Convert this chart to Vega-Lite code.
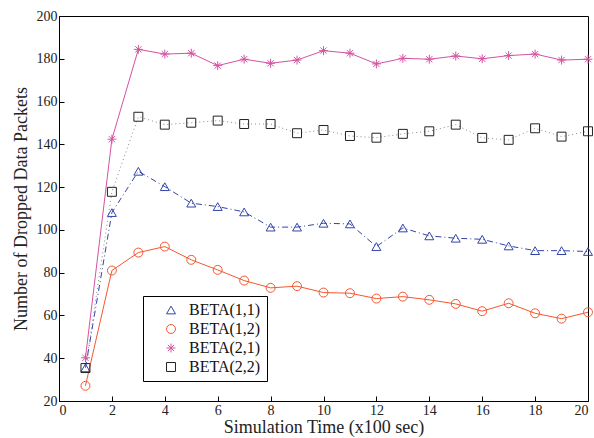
{
  "$schema": "https://vega.github.io/schema/vega-lite/v6.json",
  "width": 529,
  "height": 385,
  "autosize": {"type": "none"},
  "padding": {"left": 59, "top": 16, "right": 6, "bottom": 37},
  "background": "white",
  "config": {
    "font": "Liberation Serif",
    "view": {"stroke": "black", "strokeWidth": 1},
    "axis": {
      "grid": false,
      "domainColor": "black",
      "tickColor": "black",
      "tickSize": -5,
      "labelPadding": 7,
      "labelFont": "Liberation Serif",
      "labelFontSize": 14,
      "labelColor": "#222",
      "titleFont": "Liberation Serif",
      "titleFontSize": 18,
      "titleFontWeight": "normal",
      "titleColor": "#222"
    }
  },
  "data": {
    "values": [
      {"x": 1, "series": "BETA(1,1)", "y": 35.5},
      {"x": 2, "series": "BETA(1,1)", "y": 108.1},
      {"x": 3, "series": "BETA(1,1)", "y": 127.4},
      {"x": 4, "series": "BETA(1,1)", "y": 120.2},
      {"x": 5, "series": "BETA(1,1)", "y": 112.5},
      {"x": 6, "series": "BETA(1,1)", "y": 110.9},
      {"x": 7, "series": "BETA(1,1)", "y": 108.4},
      {"x": 8, "series": "BETA(1,1)", "y": 101.3},
      {"x": 9, "series": "BETA(1,1)", "y": 101.3},
      {"x": 10, "series": "BETA(1,1)", "y": 103.1},
      {"x": 11, "series": "BETA(1,1)", "y": 102.8},
      {"x": 12, "series": "BETA(1,1)", "y": 92.2},
      {"x": 13, "series": "BETA(1,1)", "y": 100.9},
      {"x": 14, "series": "BETA(1,1)", "y": 97.2},
      {"x": 15, "series": "BETA(1,1)", "y": 96.1},
      {"x": 16, "series": "BETA(1,1)", "y": 95.6},
      {"x": 17, "series": "BETA(1,1)", "y": 92.5},
      {"x": 18, "series": "BETA(1,1)", "y": 90.3},
      {"x": 19, "series": "BETA(1,1)", "y": 90.3},
      {"x": 20, "series": "BETA(1,1)", "y": 89.9},
      {"x": 1, "series": "BETA(1,2)", "y": 27.1},
      {"x": 2, "series": "BETA(1,2)", "y": 81.0},
      {"x": 3, "series": "BETA(1,2)", "y": 89.4},
      {"x": 4, "series": "BETA(1,2)", "y": 92.2},
      {"x": 5, "series": "BETA(1,2)", "y": 86.0},
      {"x": 6, "series": "BETA(1,2)", "y": 81.3},
      {"x": 7, "series": "BETA(1,2)", "y": 76.3},
      {"x": 8, "series": "BETA(1,2)", "y": 72.9},
      {"x": 9, "series": "BETA(1,2)", "y": 73.7},
      {"x": 10, "series": "BETA(1,2)", "y": 70.7},
      {"x": 11, "series": "BETA(1,2)", "y": 70.4},
      {"x": 12, "series": "BETA(1,2)", "y": 67.9},
      {"x": 13, "series": "BETA(1,2)", "y": 68.8},
      {"x": 14, "series": "BETA(1,2)", "y": 67.3},
      {"x": 15, "series": "BETA(1,2)", "y": 65.4},
      {"x": 16, "series": "BETA(1,2)", "y": 62.0},
      {"x": 17, "series": "BETA(1,2)", "y": 65.7},
      {"x": 18, "series": "BETA(1,2)", "y": 61.0},
      {"x": 19, "series": "BETA(1,2)", "y": 58.5},
      {"x": 20, "series": "BETA(1,2)", "y": 61.5},
      {"x": 1, "series": "BETA(2,1)", "y": 40.2},
      {"x": 2, "series": "BETA(2,1)", "y": 142.4},
      {"x": 3, "series": "BETA(2,1)", "y": 184.4},
      {"x": 4, "series": "BETA(2,1)", "y": 182.2},
      {"x": 5, "series": "BETA(2,1)", "y": 182.6},
      {"x": 6, "series": "BETA(2,1)", "y": 176.8},
      {"x": 7, "series": "BETA(2,1)", "y": 179.8},
      {"x": 8, "series": "BETA(2,1)", "y": 177.9},
      {"x": 9, "series": "BETA(2,1)", "y": 179.4},
      {"x": 10, "series": "BETA(2,1)", "y": 183.8},
      {"x": 11, "series": "BETA(2,1)", "y": 182.6},
      {"x": 12, "series": "BETA(2,1)", "y": 177.6},
      {"x": 13, "series": "BETA(2,1)", "y": 180.2},
      {"x": 14, "series": "BETA(2,1)", "y": 179.8},
      {"x": 15, "series": "BETA(2,1)", "y": 181.3},
      {"x": 16, "series": "BETA(2,1)", "y": 180.0},
      {"x": 17, "series": "BETA(2,1)", "y": 181.5},
      {"x": 18, "series": "BETA(2,1)", "y": 182.2},
      {"x": 19, "series": "BETA(2,1)", "y": 179.4},
      {"x": 20, "series": "BETA(2,1)", "y": 179.8},
      {"x": 1, "series": "BETA(2,2)", "y": 35.4},
      {"x": 2, "series": "BETA(2,2)", "y": 117.8},
      {"x": 3, "series": "BETA(2,2)", "y": 152.9},
      {"x": 4, "series": "BETA(2,2)", "y": 149.2},
      {"x": 5, "series": "BETA(2,2)", "y": 150.1},
      {"x": 6, "series": "BETA(2,2)", "y": 151.1},
      {"x": 7, "series": "BETA(2,2)", "y": 149.5},
      {"x": 8, "series": "BETA(2,2)", "y": 149.5},
      {"x": 9, "series": "BETA(2,2)", "y": 145.2},
      {"x": 10, "series": "BETA(2,2)", "y": 146.7},
      {"x": 11, "series": "BETA(2,2)", "y": 143.9},
      {"x": 12, "series": "BETA(2,2)", "y": 143.1},
      {"x": 13, "series": "BETA(2,2)", "y": 144.9},
      {"x": 14, "series": "BETA(2,2)", "y": 146.1},
      {"x": 15, "series": "BETA(2,2)", "y": 149.2},
      {"x": 16, "series": "BETA(2,2)", "y": 143.0},
      {"x": 17, "series": "BETA(2,2)", "y": 142.1},
      {"x": 18, "series": "BETA(2,2)", "y": 147.5},
      {"x": 19, "series": "BETA(2,2)", "y": 143.6},
      {"x": 20, "series": "BETA(2,2)", "y": 146.1}
    ]
  },
  "encoding": {
    "x": {
      "field": "x", "type": "quantitative",
      "scale": {"domain": [0, 20], "nice": false},
      "axis": {"values": [0,2,4,6,8,10,12,14,16,18,20], "title": "Simulation Time (x100 sec)", "titlePadding": 1}
    },
    "y": {
      "field": "y", "type": "quantitative",
      "scale": {"domain": [20, 200], "nice": false, "zero": false},
      "axis": {"values": [20,40,60,80,100,120,140,160,180,200], "title": "Number of Dropped Data Packets", "titlePadding": 6}
    }
  },
  "layer": [
    {
      "transform": [{"filter": "datum.series === 'BETA(1,1)'"}],
      "mark": {"type": "line", "strokeWidth": 1, "color": "#3344a8", "strokeDash": [6, 3, 1, 3]},
      "encoding": {}
    },
    {
      "transform": [{"filter": "datum.series === 'BETA(1,2)'"}],
      "mark": {"type": "line", "strokeWidth": 1, "color": "#f5562e"},
      "encoding": {}
    },
    {
      "transform": [{"filter": "datum.series === 'BETA(2,1)'"}],
      "mark": {"type": "line", "strokeWidth": 1, "color": "#d452a2"},
      "encoding": {}
    },
    {
      "transform": [{"filter": "datum.series === 'BETA(2,2)'"}],
      "mark": {"type": "line", "strokeWidth": 1, "color": "#8a8a8a", "strokeDash": [1, 3]},
      "encoding": {}
    },
    {
      "mark": {"type": "point", "filled": false, "strokeWidth": 1, "size": 80, "opacity": 1},
      "encoding": {
        "color": {
          "field": "series", "type": "nominal",
          "scale": {"domain": ["BETA(1,1)", "BETA(1,2)", "BETA(2,1)", "BETA(2,2)"], "range": ["#3344a8", "#f5562e", "#d452a2", "#222222"]},
          "legend": {
            "title": null, "orient": "none", "legendX": 84, "legendY": 280,
            "strokeColor": "black", "fillColor": "white", "padding": 6,
            "labelFont": "Liberation Serif", "labelFontSize": 16, "labelColor": "#111",
            "labelOffset": 10, "symbolSize": 80, "symbolStrokeWidth": 1, "symbolOffset": 14, "rowPadding": 3
          }
        },
        "shape": {
          "field": "series", "type": "nominal",
          "scale": {"domain": ["BETA(1,1)", "BETA(1,2)", "BETA(2,1)", "BETA(2,2)"], "range": ["triangle-up", "circle", "M-1,0L1,0M0,-1L0,1M-0.7,-0.7L0.7,0.7M-0.7,0.7L0.7,-0.7", "square"]},
          "legend": {
            "title": null, "orient": "none", "legendX": 84, "legendY": 280,
            "strokeColor": "black", "fillColor": "white", "padding": 6,
            "labelFont": "Liberation Serif", "labelFontSize": 16, "labelColor": "#111",
            "labelOffset": 10, "symbolSize": 80, "symbolStrokeWidth": 1, "symbolOffset": 14, "rowPadding": 3
          }
        }
      }
    }
  ]
}
